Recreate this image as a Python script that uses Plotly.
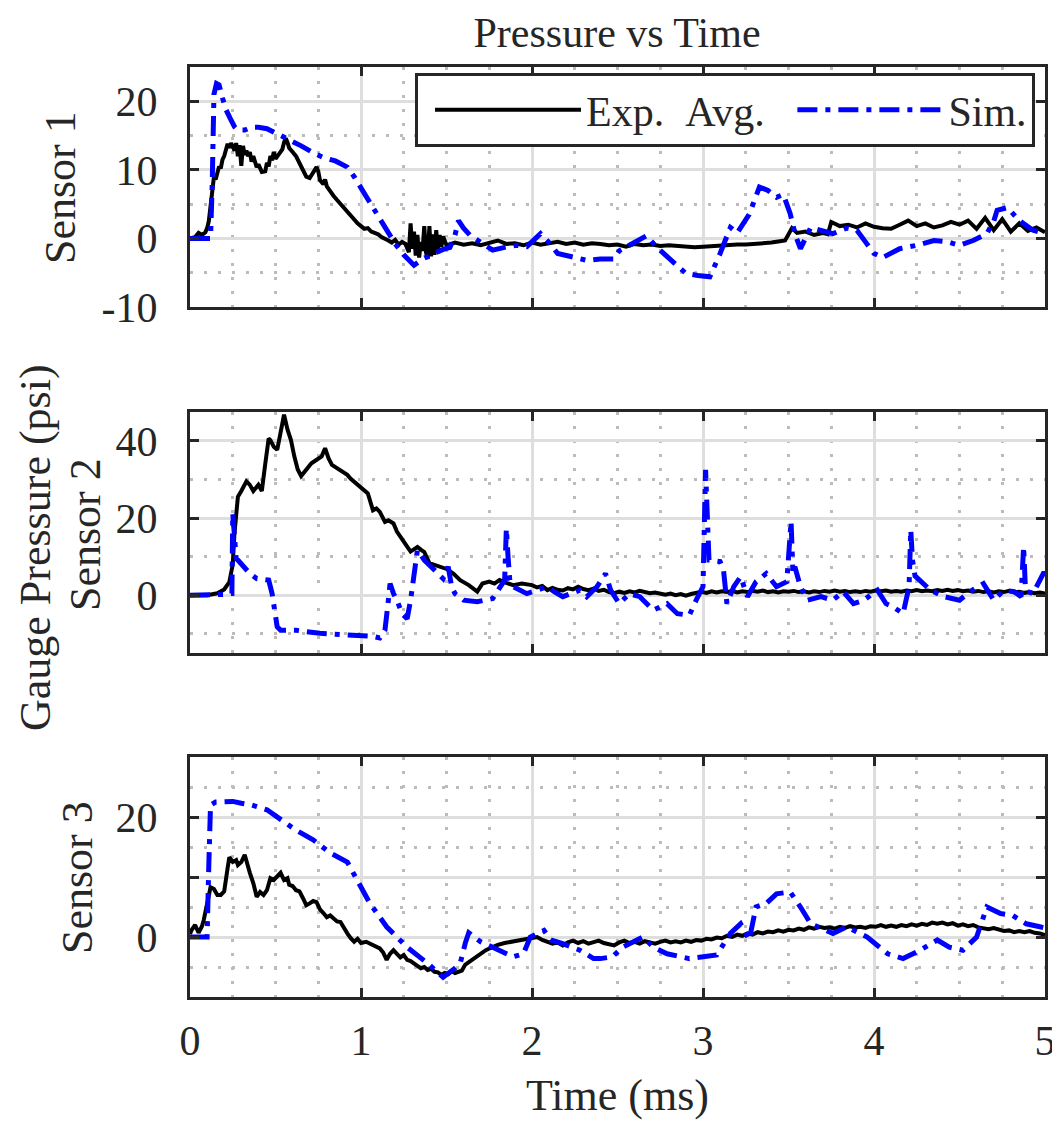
import plotly.graph_objects as go

# ---------------- data ----------------
# Sensor 1
t_exp1 = [0.00, 0.03, 0.05, 0.07, 0.09, 0.10, 0.11, 0.12, 0.13, 0.14, 0.15, 0.16, 0.17, 0.18, 0.19,
          0.20, 0.21, 0.22, 0.23, 0.24, 0.25, 0.26, 0.27, 0.28, 0.29, 0.30, 0.31, 0.32, 0.33, 0.34,
          0.35, 0.36, 0.37, 0.38, 0.39, 0.40, 0.42, 0.44, 0.45, 0.46, 0.47, 0.48, 0.49, 0.50, 0.52,
          0.54, 0.55, 0.56, 0.57, 0.58, 0.60, 0.62, 0.64, 0.66, 0.68, 0.70, 0.72, 0.74, 0.75, 0.76,
          0.78, 0.79, 0.80, 0.82, 0.84, 0.86, 0.88, 0.90, 0.92, 0.94, 0.96, 0.98, 1.00, 1.02, 1.04,
          1.06, 1.08, 1.10, 1.12, 1.14, 1.16, 1.18, 1.20, 1.22, 1.24, 1.26, 1.28, 1.29, 1.30, 1.31,
          1.32, 1.33, 1.34, 1.35, 1.36, 1.37, 1.38, 1.39, 1.40, 1.41, 1.42, 1.43, 1.44, 1.45, 1.46,
          1.47, 1.48, 1.50, 1.55, 1.60, 1.65, 1.70, 1.75, 1.80, 1.85, 1.90, 1.95, 2.00, 2.05, 2.10,
          2.15, 2.20, 2.25, 2.30, 2.35, 2.40, 2.45, 2.50, 2.55, 2.60, 2.65, 2.70, 2.75, 2.80, 2.85,
          2.90, 2.95, 3.00, 3.05, 3.10, 3.15, 3.20, 3.25, 3.30, 3.35, 3.40, 3.45, 3.48, 3.52, 3.55,
          3.60, 3.65, 3.70, 3.73, 3.75, 3.80, 3.85, 3.90, 3.95, 4.00, 4.05, 4.10, 4.15, 4.20, 4.25,
          4.30, 4.35, 4.40, 4.45, 4.50, 4.55, 4.60, 4.65, 4.70, 4.75, 4.80, 4.85, 4.90, 4.95, 5.00]
p_exp1 = [0.0, 0.2, 0.8, 0.5, 0.9, 1.5, 2.5, 5.0, 7.5, 9.0, 8.6, 9.8, 10.5, 10.2, 11.5,
          12.0, 13.2, 13.8, 13.2, 13.9, 13.4, 12.8, 13.9, 12.0, 13.6, 10.6, 13.5, 12.2, 12.8, 12.0,
          12.6, 11.2, 12.0, 11.0, 10.4, 10.8, 9.7, 9.8, 11.0, 10.5, 12.0, 11.4, 12.6, 11.6, 12.2,
          13.0, 14.0, 14.6, 14.0, 13.2, 12.6, 12.0, 11.0, 10.0, 9.0, 8.8, 9.6, 10.4, 9.8, 8.5,
          7.9, 8.6, 7.6, 6.8, 6.2, 5.6, 5.0, 4.6, 4.0, 3.3, 2.8, 2.2, 1.8, 1.4, 1.5,
          1.0, 0.8, 0.6, 0.2, 0.0, -0.3, -0.6, -0.2, -0.9, -0.5, -0.8, -2.0, 2.2, -1.5, 1.0,
          -2.5, 0.5, -2.8, -0.5, -1.8, 1.8, -2.0, -3.0, 1.8, -2.6, 0.6, -2.4, 1.2, -2.0, 0.5,
          -1.2, 0.3, -1.0, -0.6, -0.9, -0.7, -1.0, -0.6, -0.3, -0.8, -0.7, -1.0, -0.6, -0.9, -0.7,
          -0.5, -0.8, -0.6, -0.9, -0.7, -0.8, -1.0, -0.9, -1.2, -0.8, -1.0, -0.9, -1.1, -1.0, -1.1,
          -1.2, -1.3, -1.2, -1.1, -1.0, -1.0, -0.9, -0.9, -0.8, -0.8, -0.6, -0.4, -0.3, 1.5, 0.8,
          1.0, 0.5, 0.8, 0.6, 2.4, 1.8, 2.0, 1.6, 2.2, 1.7, 1.5, 1.4, 2.0, 2.6, 1.8,
          2.2, 1.6, 1.9, 2.4, 2.0, 2.6, 1.4, 3.0, 1.2, 2.8, 1.0, 2.2, 1.1, 1.6, 0.9]

t_sim1 = [0.00, 0.12, 0.13, 0.14, 0.155, 0.17, 0.19, 0.21, 0.235, 0.26, 0.28, 0.32, 0.36, 0.40, 0.45,
          0.50, 0.57, 0.65, 0.72, 0.78, 0.85, 0.92, 0.96, 1.00, 1.05, 1.11, 1.16, 1.20, 1.25, 1.31,
          1.36, 1.42, 1.48, 1.52, 1.55, 1.57, 1.60, 1.64, 1.70, 1.77, 1.84, 1.91, 1.97, 2.05, 2.10,
          2.15, 2.22, 2.32, 2.40, 2.48, 2.51, 2.58, 2.67, 2.73, 2.80, 2.90, 2.97, 3.04, 3.10, 3.16,
          3.20, 3.24, 3.27, 3.30, 3.33, 3.38, 3.43, 3.47, 3.51, 3.54, 3.57, 3.63, 3.70, 3.76, 3.84,
          3.90, 3.95, 4.00, 4.05, 4.15, 4.25, 4.35, 4.43, 4.50, 4.58, 4.66, 4.70, 4.72, 4.78, 4.85,
          4.93, 5.00]
p_sim1 = [0.0, 0.0, 8.0, 21.0, 22.6, 22.4, 20.5, 18.8, 17.5, 16.3, 15.8, 15.8, 16.2, 16.2, 16.0,
          15.4, 14.6, 13.5, 12.5, 11.8, 11.3, 10.4, 9.0, 7.4, 5.4, 3.1, 1.0, -0.8, -2.4, -3.9,
          -3.0, -2.2, -1.6, -1.3, 0.5, 2.6, 1.5, 0.4, -0.5, -1.7, -1.3, -1.0, -1.2, 0.7, -0.6,
          -2.2, -2.6, -3.2, -3.0, -3.0, -1.8, -0.8, 0.4, -1.3, -2.8, -5.1, -5.4, -5.6, -2.2, 1.6,
          0.8, 2.2, 3.5, 5.5, 7.5, 7.0, 6.0, 6.4, 3.6, 0.5, -1.5, 1.6, 1.2, 0.7, 1.5,
          1.2, -0.5, -2.2, -2.8, -1.5, -1.0, -0.3, -0.5, -1.0, -0.3, 0.7, 2.5, 4.1, 4.5, 2.6,
          1.2, 0.7]

# Sensor 2
t_exp2 = [0.00, 0.10, 0.16, 0.20, 0.23, 0.25, 0.26, 0.27, 0.28, 0.30, 0.33, 0.35, 0.37, 0.40, 0.42,
          0.44, 0.46, 0.47, 0.49, 0.51, 0.53, 0.55, 0.57, 0.59, 0.61, 0.63, 0.65, 0.67, 0.69, 0.71,
          0.73, 0.75, 0.77, 0.79, 0.81, 0.83, 0.86, 0.89, 0.92, 0.94, 0.96, 0.98, 1.01, 1.04, 1.07,
          1.09, 1.11, 1.14, 1.16, 1.19, 1.21, 1.24, 1.27, 1.29, 1.31, 1.33, 1.35, 1.37, 1.40, 1.42,
          1.45, 1.48, 1.50, 1.54, 1.58, 1.63, 1.68, 1.71, 1.75, 1.78, 1.81, 1.85, 1.89, 1.94,
          2.00, 2.03, 2.06, 2.09, 2.12, 2.15, 2.18, 2.21, 2.24, 2.27, 2.30, 2.33, 2.36, 2.39, 2.42,
          2.45, 2.48, 2.51, 2.54, 2.57, 2.60, 2.63, 2.66, 2.69, 2.72, 2.75, 2.78, 2.81, 2.84, 2.87,
          2.90, 2.93, 2.96, 2.99, 3.02, 3.05, 3.08, 3.11, 3.14, 3.17, 3.20, 3.23, 3.26, 3.29, 3.32,
          3.35, 3.38, 3.41, 3.44, 3.47, 3.50, 3.53, 3.56, 3.59, 3.62, 3.65, 3.68, 3.71, 3.74, 3.77,
          3.80, 3.83, 3.86, 3.89, 3.92, 3.95, 3.98, 4.01, 4.04, 4.07, 4.10, 4.13, 4.16, 4.19, 4.22,
          4.25, 4.28, 4.31, 4.34, 4.37, 4.40, 4.43, 4.46, 4.49, 4.52, 4.55, 4.58, 4.61, 4.64, 4.67,
          4.70, 4.73, 4.76, 4.79, 4.82, 4.85, 4.88, 4.91, 4.94, 4.97, 5.00]
p_exp2 = [0.0, 0.0, 0.5, 1.5, 3.4, 8.0, 16.0, 20.8, 25.5, 27.0, 29.5, 28.6, 27.0, 28.6, 27.0,
          34.0, 40.6, 40.2, 38.5, 37.7, 42.0, 46.8, 43.0, 40.3, 36.0, 32.6, 30.9, 32.0, 33.5, 34.2,
          34.8, 35.5, 36.0, 38.1, 35.5, 33.8, 33.0, 32.0, 31.2, 30.2, 29.4, 28.6, 27.7, 26.4, 22.0,
          22.5, 21.6, 19.0, 19.4, 18.6, 16.5, 14.3, 12.6, 11.3, 12.0, 12.5, 11.8, 11.2, 8.3, 8.0,
          7.4, 7.0, 6.8, 5.6, 3.9, 2.6, 0.9, 3.0, 3.5, 3.0, 3.9, 3.2, 2.6, 3.0,
          2.6, 2.0, 2.4, 1.3, 1.9, 1.4, 1.2, 1.8, 1.5, 2.2, 1.6, 1.3, 1.7, 1.1, 1.4,
          0.8, 0.5, 0.9, 0.6, 1.0, 0.7, 1.1, 0.8, 0.5, 0.7, 0.3, 0.1, 0.4, 0.0, 0.3,
          -0.1, 0.3, 0.5, 0.9, 0.6, 1.0, 0.7, 1.0, 0.8, 1.1, 0.7, 1.0, 0.8, 1.1, 0.9,
          1.2, 0.8, 1.0, 0.7, 1.0, 0.9, 1.1, 0.8, 1.0, 0.7, 1.0, 0.8, 1.1, 0.9, 1.2,
          0.9, 1.1, 0.8, 1.0, 0.8, 1.1, 0.9, 1.2, 1.0, 1.2, 0.9, 1.1, 0.9, 1.2, 1.0,
          1.3, 1.0, 1.2, 1.0, 1.3, 1.1, 1.4, 1.1, 1.3, 1.0, 1.2, 0.9, 1.1, 0.8, 1.0,
          0.7, 1.0, 0.8, 1.1, 0.7, 0.9, 0.6, 0.8, 0.5, 0.7, 0.4]

t_sim2 = [0.00, 0.16, 0.20, 0.23, 0.245, 0.25, 0.26, 0.27, 0.28, 0.31, 0.33, 0.35, 0.39, 0.42, 0.46,
          0.48, 0.51, 0.53, 0.62, 0.76, 0.97, 1.07, 1.11, 1.14, 1.16, 1.17, 1.19, 1.21, 1.24, 1.27,
          1.29, 1.31, 1.33, 1.37, 1.43, 1.48, 1.51, 1.53, 1.55, 1.60, 1.68, 1.74, 1.77, 1.84, 1.85,
          1.86, 1.87, 1.89, 1.97, 2.03, 2.09, 2.13, 2.18, 2.28, 2.32, 2.38, 2.43, 2.46, 2.51, 2.57,
          2.63, 2.71, 2.79, 2.85, 2.92, 2.96, 3.00, 3.015, 3.025, 3.035, 3.04, 3.10, 3.12, 3.14, 3.18,
          3.22, 3.26, 3.31, 3.37, 3.43, 3.49, 3.515, 3.525, 3.54, 3.57, 3.61, 3.69, 3.76, 3.82, 3.88,
          3.94, 4.02, 4.07, 4.11, 4.17, 4.205, 4.215, 4.225, 4.24, 4.27, 4.33, 4.41, 4.50, 4.56, 4.64,
          4.70, 4.76, 4.82, 4.86, 4.875, 4.885, 4.895, 4.93, 4.99, 5.00]
p_sim2 = [0.0, 0.0, 0.2, 0.4, 0.4, 21.2, 12.9, 9.5, 9.1, 7.6, 6.5, 5.6, 4.3, 4.2, 3.9,
          0.4, -8.2, -9.1, -9.1, -9.9, -10.3, -10.7, -11.1, -9.1, -1.3, 3.0, 0.4, -1.3, -4.8, -6.1,
          -1.3, 5.6, 11.7, 9.1, 6.5, 4.3, 7.4, 2.2, 0.4, -1.3, -1.7, -1.3, -0.9, 3.9, 17.3,
          9.9, 3.9, 2.2, 0.4, 1.3, 2.2, 0.9, -0.4, 1.3, -0.4, 2.2, 5.6, 1.3, -2.2, 0.4,
          -0.4, -3.9, -2.2, -4.8, -5.2, -1.3, 2.2, 32.5, 16.0, 9.1, 9.1, 8.7, 6.5, -2.2, 2.2,
          4.8, -0.4, 3.5, 5.6, 2.2, 3.5, 19.1, 6.9, 6.9, 2.2, -1.3, -0.4, -1.3, 0.9, -2.2,
          -1.3, 1.3, -2.2, -3.0, -4.8, 2.2, 16.9, 9.1, 5.0, 3.9, 1.3, -0.4, -1.3, 0.9, 3.0,
          -1.3, 1.3, 0.9, -0.4, 12.6, 2.2, 1.0, 0.4, 5.6, 5.6]

# Sensor 3
t_exp3 = [0.00, 0.01, 0.03, 0.05, 0.07, 0.08, 0.10, 0.12, 0.14, 0.16, 0.18, 0.20, 0.22, 0.23, 0.25,
          0.27, 0.28, 0.30, 0.32, 0.33, 0.35, 0.37, 0.39, 0.41, 0.43, 0.45, 0.47, 0.49, 0.51, 0.53,
          0.55, 0.57, 0.58, 0.60, 0.62, 0.64, 0.66, 0.68, 0.70, 0.72, 0.74, 0.76, 0.78, 0.80, 0.82,
          0.84, 0.86, 0.88, 0.90, 0.92, 0.94, 0.96, 0.98, 1.00, 1.03, 1.06, 1.09, 1.11, 1.13, 1.15,
          1.17, 1.19, 1.21, 1.23, 1.25, 1.27, 1.29, 1.31, 1.33, 1.35, 1.37, 1.39, 1.41, 1.43, 1.45,
          1.47, 1.49, 1.51, 1.53, 1.55, 1.57, 1.59, 1.61, 1.63, 1.65, 1.67, 1.70, 1.73, 1.76, 1.80,
          1.84, 1.88, 1.92, 1.96,
          2.00, 2.03, 2.06, 2.09, 2.12, 2.15, 2.18, 2.21, 2.24, 2.27, 2.30, 2.33, 2.36, 2.39, 2.42,
          2.45, 2.48, 2.51, 2.54, 2.57, 2.60, 2.63, 2.66, 2.69, 2.72, 2.75, 2.78, 2.81, 2.84, 2.87,
          2.90, 2.93, 2.96, 2.99, 3.02, 3.05, 3.08, 3.11, 3.14, 3.17, 3.20, 3.23, 3.26, 3.29, 3.32,
          3.35, 3.38, 3.41, 3.44, 3.47, 3.50, 3.53, 3.56, 3.59, 3.62, 3.65, 3.68, 3.71, 3.74, 3.77,
          3.80, 3.83, 3.86, 3.89, 3.92, 3.95, 3.98, 4.01, 4.04, 4.07, 4.10, 4.13, 4.16, 4.19, 4.22,
          4.25, 4.28, 4.31, 4.34, 4.37, 4.40, 4.43, 4.46, 4.49, 4.52, 4.55, 4.58, 4.61, 4.64, 4.67,
          4.70, 4.73, 4.76, 4.79, 4.82, 4.85, 4.88, 4.91, 4.94, 4.97, 5.00]
p_exp3 = [0.5, 1.2, 2.0, 0.7, 1.8, 2.8, 5.5, 8.3, 8.0, 7.0, 7.0, 7.6, 11.5, 13.3, 12.5,
          12.8, 12.0, 12.5, 13.7, 12.5, 10.7, 9.0, 6.7, 7.5, 7.0, 7.8, 9.8, 9.5, 10.2, 10.7,
          9.5, 9.8, 8.7, 8.5, 7.8, 7.6, 6.5, 5.3, 5.6, 6.0, 5.8, 4.6, 4.0, 3.3, 3.6,
          3.0, 2.6, 2.5, 1.4, 0.6, -0.2, -0.8, -0.3, -1.0, -0.8, -1.2, -1.5, -1.9, -2.6, -3.8,
          -2.8, -2.2, -2.8, -3.4, -3.0, -3.8, -4.0, -4.5, -4.8, -5.2, -5.0, -5.5, -5.3, -5.8, -5.9,
          -6.3, -6.0, -6.2, -5.7, -6.0, -5.8, -5.6, -4.6, -4.2, -3.8, -3.3, -2.7, -2.2, -1.8, -1.3,
          -1.0, -0.8, -0.6, -0.5,
          -0.2, 0.0, -0.5, -0.8, -1.1, -0.9, -1.4, -0.9, -0.6, -1.0, -0.7, -1.1, -0.8, -0.6, -1.0,
          -1.2, -1.4, -0.9, -0.6, -1.0, -0.8, -1.1, -0.7, -0.9, -1.1, -0.8, -0.6, -0.9, -0.7, -0.9,
          -0.6, -0.8, -0.5, -0.6, -0.3, -0.4, -0.1, -0.2, 0.2, 0.0, 0.4, 0.2, 0.6, 0.4, 0.8,
          0.6, 0.9, 0.8, 1.1, 0.9, 1.2, 1.1, 1.4, 1.2, 1.6, 1.4, 1.7, 1.5, 1.6, 1.4,
          1.7, 1.5, 1.8, 1.6, 1.7, 1.5, 1.8, 1.7, 2.0, 1.7, 1.9, 1.7, 2.0, 1.8, 2.1,
          1.9, 2.2, 2.0, 2.4, 2.2, 2.4, 2.1, 2.3, 1.9, 2.1, 1.8, 2.0, 1.6, 1.5, 1.3,
          1.5, 1.2, 1.0, 1.1, 0.8, 1.0, 0.8, 1.0, 0.7, 0.6, 0.3]

t_sim3 = [0.00, 0.10, 0.11, 0.12, 0.15, 0.20, 0.25, 0.30, 0.36, 0.45, 0.53, 0.62, 0.72, 0.82, 0.92,
          0.98, 1.05, 1.15, 1.27, 1.39, 1.48, 1.55, 1.58, 1.61, 1.63, 1.70, 1.81, 1.89, 1.95, 1.99,
          2.07, 2.11, 2.18, 2.28, 2.36, 2.40, 2.47, 2.53, 2.65, 2.71, 2.79, 2.92, 3.08, 3.16, 3.22,
          3.27, 3.31, 3.37, 3.43, 3.51, 3.57, 3.63, 3.76, 3.84, 3.96, 4.08, 4.17, 4.27, 4.37, 4.44,
          4.52, 4.60, 4.66, 4.74, 4.81, 4.89, 4.97, 5.00]
p_sim3 = [0.0, 0.0, 12.0, 22.0, 22.5, 22.6, 22.6, 22.3, 22.0, 21.2, 19.5, 17.8, 16.2, 14.0, 12.5,
          9.5, 5.7, 1.7, -1.7, -4.4, -6.7, -5.2, -4.4, -1.0, 0.7, -0.8, -2.2, -3.3, -2.8, 0.0,
          1.1, -0.5, -1.1, -2.2, -3.6, -3.6, -3.3, -1.7, 0.0, -1.7, -2.8, -3.6, -3.0, 0.6, 2.2,
          -0.5, 5.0, 5.6, 7.2, 7.5, 5.0, 2.2, 0.6, 1.7, 0.0, -2.8, -3.6, -2.2, -0.5, -1.7,
          -2.2, 0.0, 5.0, 3.9, 3.6, 2.2, 1.7, 1.5]

sensor_labels = ["Sensor 1", "Sensor 2", "Sensor 3"]
y_ranges = [[-10, 25], [-15, 47.5], [-10, 30]]
y_tickvals = [[-10, 0, 10, 20], [0, 20, 40], [0, 10, 20]]
y_ticktext = [["-10", "0", "10", "20"], ["0", "20", "40"], ["0", "", "20"]]
y_minor = [5, 10, 5]
x_tickvals = [0, 1, 2, 3, 4, 5]

# ---------------- figure ----------------
FONT = "Liberation Serif, Times New Roman, serif"
AX = "#262626"
BLUE = "#0000FF"
SIM_DASH = "20px,8px,5px,8px"
NB = "\u00a0"

series = [(t_exp1, p_exp1, t_sim1, p_sim1),
          (t_exp2, p_exp2, t_sim2, p_sim2),
          (t_exp3, p_exp3, t_sim3, p_sim3)]

fig = go.Figure()
for i, (te, pe, ts, ps) in enumerate(series):
    xa = "x" if i == 0 else f"x{i+1}"
    ya = "y" if i == 0 else f"y{i+1}"
    fig.add_trace(go.Scatter(x=te, y=pe, mode="lines", name="Exp." + NB + NB + "Avg." + NB,
                             line=dict(color="black", width=4),
                             xaxis=xa, yaxis=ya, showlegend=(i == 0), legendrank=1))
    fig.add_trace(go.Scatter(x=ts, y=ps, mode="lines", name="Sim.",
                             line=dict(color=BLUE, width=5, dash=SIM_DASH),
                             xaxis=xa, yaxis=ya, showlegend=(i == 0), legendrank=2))

# The page has an 8px body margin: the figure is sized so it fills the window exactly.
OFF = 8
W, HT = 1060 - OFF, 1128 - OFF
L = 190 - OFF
T = 67 - OFF
R = W - (1045 - OFF)
B = HT - (997 - OFF)
PW = W - L - R
H = HT - T - B
domains_px = [(67, 307), (412, 653), (757, 997)]   # reference pixels


def px_x(px):
    return (px - 190) / PW


def px_y(py):
    return (997 - py) / H


def ydom(top, bot):
    return [px_y(bot), px_y(top)]


layout_axes = {}
for i in range(3):
    xs = "xaxis" if i == 0 else f"xaxis{i+1}"
    ys = "yaxis" if i == 0 else f"yaxis{i+1}"
    yname = "y" if i == 0 else f"y{i+1}"
    xname = "x" if i == 0 else f"x{i+1}"
    layout_axes[xs] = dict(
        domain=[0, 1], anchor=yname, range=[0, 5],
        tickvals=x_tickvals, ticktext=[str(v) for v in x_tickvals],
        showticklabels=(i == 2),
        showgrid=True, gridcolor="#dedede", gridwidth=2.5,
        showline=True, linecolor=AX, linewidth=3, mirror="ticks",
        ticks="inside", ticklen=9, tickwidth=3, tickcolor=AX,
        zeroline=False, tickfont=dict(family=FONT, size=42, color=AX),
        ticklabelstandoff=5,
        minor=dict(dtick=0.25, tick0=0, showgrid=True, gridcolor="#bcbcbc",
                   gridwidth=2.5, griddash="3px,11px", ticks=""),
    )
    if i < 2:
        layout_axes[xs]["matches"] = "x3"
    layout_axes[ys] = dict(
        domain=ydom(*domains_px[i]), anchor=xname, range=y_ranges[i],
        tickvals=y_tickvals[i], ticktext=y_ticktext[i],
        showgrid=True, gridcolor="#dedede", gridwidth=2.5,
        showline=True, linecolor=AX, linewidth=3, mirror="ticks",
        ticks="inside", ticklen=9, tickwidth=3, tickcolor=AX,
        zeroline=False, tickfont=dict(family=FONT, size=42, color=AX),
        ticklabelstandoff=21,
        minor=dict(dtick=y_minor[i], tick0=0, showgrid=True, gridcolor="#bcbcbc",
                   gridwidth=2.5, griddash="3px,11px", ticks=""),
    )

layout_axes["xaxis3"]["title"] = dict(text="Time (ms)", font=dict(family=FONT, size=44, color=AX),
                                      standoff=16)

ann = []
label_pos = [(60, 188), (85, 535), (77, 878)]   # reference pixels
for lab, (px, py) in zip(sensor_labels, label_pos):
    ann.append(dict(text=lab, x=px_x(px), y=px_y(py), xref="paper", yref="paper",
                    textangle=-90, showarrow=False, xanchor="center", yanchor="middle",
                    font=dict(family=FONT, size=44, color=AX)))
ann.append(dict(text="Gauge Pressure (psi)", x=px_x(35), y=px_y(548), xref="paper", yref="paper",
                textangle=-90, showarrow=False, xanchor="center", yanchor="middle",
                font=dict(family=FONT, size=44, color=AX)))

fig.update_layout(
    width=W, height=HT,
    margin=dict(l=L, r=R, t=T, b=B, autoexpand=False),
    paper_bgcolor="white", plot_bgcolor="white",
    title=dict(text="Pressure vs Time", x=(617 - OFF) / W, y=1 - (32 - OFF) / HT,
               xanchor="center", yanchor="middle",
               font=dict(family=FONT, size=42, color=AX)),
    legend=dict(orientation="h", x=px_x(1035), y=px_y(73), xanchor="right", yanchor="top",
                bgcolor="white", bordercolor=AX, borderwidth=3,
                font=dict(family=FONT, size=42, color=AX), itemwidth=146,
                indentation=12, traceorder="normal"),
    annotations=ann,
    showlegend=True,
    **layout_axes,
)

fig.write_html("out.html")
